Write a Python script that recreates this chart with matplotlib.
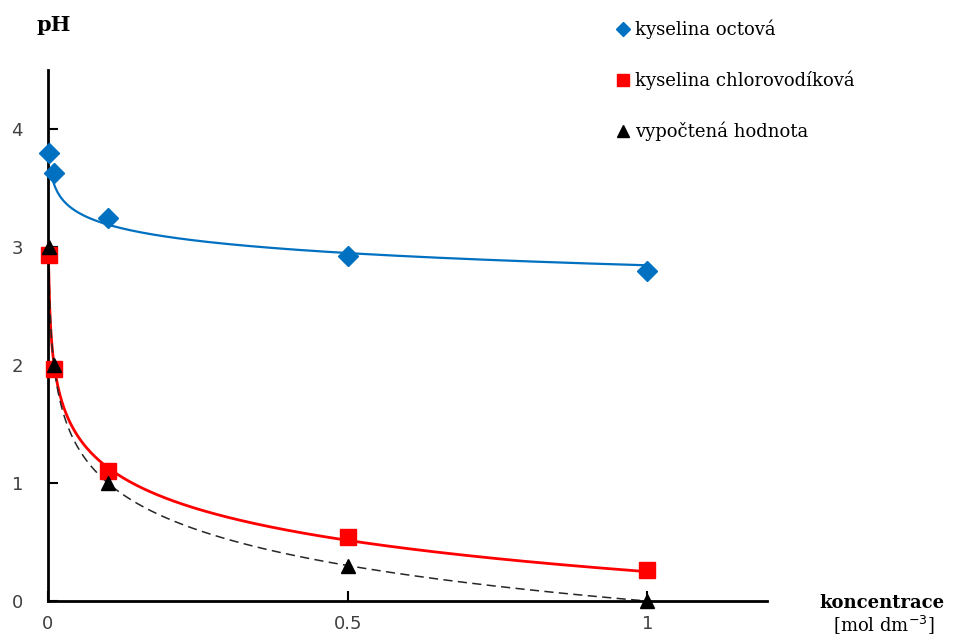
import numpy as np
import matplotlib
matplotlib.use("Agg")
import matplotlib.pyplot as plt
from matplotlib.lines import Line2D

# concentrations [mol dm-3]
konc = [0.001, 0.01, 0.1, 0.5, 1.0]
ph_octova = [3.80, 3.63, 3.25, 2.92, 2.80]
ph_hcl = [2.93, 1.97, 1.10, 0.54, 0.26]
ph_vypocet = [3.0, 2.0, 1.0, 0.30, 0.0]

labels = ["kyselina octová", "kyselina chlorovodíková", "vypočtená hodnota"]

serif = "DejaVu Serif"

fig = plt.figure(figsize=(9.59, 6.37), dpi=100)
ax = fig.add_axes([0.05, 0.0565, 0.75, 0.8335])

# logarithmic trendlines fitted to the points
def logfit(x, y, x0):
    k, q = np.polyfit(np.log(x), y, 1)
    xs = np.linspace(x0, 1.0, 600)
    return xs, k * np.log(xs) + q

xs, ys = logfit(konc, ph_octova, 0.009)
ax.plot(xs, ys, color="#0070C0", lw=1.6, zorder=2)
xs, ys = logfit(konc, ph_hcl, 0.0012)
ax.plot(xs, ys, color="#FF0000", lw=2.0, zorder=2)
xs, ys = logfit(konc, ph_vypocet, 0.0012)
ax.plot(xs, ys, color="#262626", lw=1.1, ls=(0, (6, 3.5)), zorder=2)

ax.plot(konc, ph_octova, ls="none", marker="D", ms=10, color="#0070C0",
        zorder=5, clip_on=False)
ax.plot(konc, ph_hcl, ls="none", marker="s", ms=12, color="#FF0000",
        zorder=5, clip_on=False)
ax.plot(konc, ph_vypocet, ls="none", marker="^", ms=10, color="black",
        zorder=6, clip_on=False)

ax.set_xlim(0, 1.2)
ax.set_ylim(0, 4.5)
ax.set_xticks([0, 0.5, 1])
ax.set_xticklabels(["0", "0.5", "1"])
ax.set_yticks([0, 1, 2, 3, 4])
for s in ["top", "right"]:
    ax.spines[s].set_visible(False)
for s in ["left", "bottom"]:
    ax.spines[s].set_linewidth(2)
ax.tick_params(direction="in", length=7, width=1.5, labelsize=13,
               labelcolor="#404040")
ax.tick_params(axis="y", pad=18)
ax.tick_params(axis="x", pad=10)

fig.text(0.056, 0.96, "pH", family=serif, fontsize=15, fontweight="bold",
         ha="center", va="center")
fig.text(0.92, 0.053, "koncentrace", family=serif, fontsize=13,
         fontweight="bold", ha="center", va="center")
fig.text(0.922, 0.018, "[mol dm$^{-3}$]", family=serif, fontsize=13,
         ha="center", va="center")

handles = [
    Line2D([], [], ls="none", marker="D", ms=7, color="#0070C0"),
    Line2D([], [], ls="none", marker="s", ms=9, color="#FF0000"),
    Line2D([], [], ls="none", marker="^", ms=9, color="black"),
]
fig.legend(handles, labels, loc="upper left", bbox_to_anchor=(0.625, 0.995),
           frameon=False, handlelength=0.8, handletextpad=0.3,
           labelspacing=1.75, prop={"family": serif, "size": 13})

fig.savefig("out.png", dpi=100)
